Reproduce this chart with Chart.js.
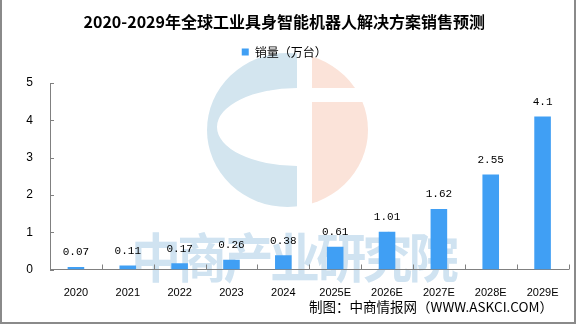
<!DOCTYPE html>
<html>
<head>
<meta charset="utf-8">
<script src="https://cdn.jsdelivr.net/npm/chart.js@4.4.1/dist/chart.umd.min.js"></script>
<style>
  html, body { margin: 0; padding: 0; background: #fff; }
  #wrap { width: 576px; height: 324px; position: relative; }
</style>
</head>
<body>
<div id="wrap"><canvas id="c" width="576" height="324"></canvas></div>
<script>
const titleText = '2020-2029年全球工业具身智能机器人解决方案销售预测';
const seriesName = '销量（万台）';
const categories = ['2020', '2021', '2022', '2023', '2024', '2025E', '2026E', '2027E', '2028E', '2029E'];
const sales = [0.07, 0.11, 0.17, 0.26, 0.38, 0.61, 1.01, 1.62, 2.55, 4.1];
const yTicks = [0, 1, 2, 3, 4, 5];
const watermarkText = '中商产业研究院';
const footerText = '制图：中商情报网（WWW.ASKCI.COM）';

const AXIS = '#808080';
const BAR = '#409ff4';
const CJK = '"Noto Sans CJK SC", "Noto Sans", sans-serif';

const legendSpace = {
  id: 'legendSpace',
  afterInit(chart) {
    const lg = chart.legend;
    if (lg && !lg._patched) {
      const fit = lg.fit;
      lg.fit = function () { fit.call(this); this.height += 15; };
      lg._patched = true;
    }
  }
};

const background = {
  id: 'background',
  beforeDraw(chart) {
    const ctx = chart.ctx;
    ctx.save();
    ctx.fillStyle = '#ffffff';
    ctx.fillRect(0, 0, chart.width, chart.height);

    // logo (background decoration)
    const cx = 287.5, cy = 130, rx = 80.5, ry = 77;
    ctx.save();
    ctx.beginPath();
    ctx.ellipse(cx, cy, rx, ry, 0, 0, Math.PI * 2);
    ctx.clip();
    ctx.save();
    ctx.beginPath();
    ctx.rect(0, 0, 297, 400);
    ctx.clip();
    ctx.beginPath();
    ctx.rect(0, 0, 297, 400);
    ctx.ellipse(297, 127, 80, 39, 0, 0, Math.PI * 2, true);
    ctx.fillStyle = '#d3e5ef';
    ctx.fill('evenodd');
    ctx.restore();
    ctx.fillStyle = '#fbe3d9';
    ctx.fillRect(312, 0, 100, 88);
    ctx.fillRect(312, 102, 100, 200);
    ctx.restore();

    // watermark
    ctx.fillStyle = '#d0e3f1';
    ctx.font = 'bold 50px ' + CJK;
    ctx.textAlign = 'left';
    ctx.textBaseline = 'middle';
    const chars = Array.from(watermarkText);
    chars.forEach((ch, i) => {
      ctx.save();
      ctx.translate(131 + i * 46.3, 258);
      ctx.scale(1, 1.06);
      ctx.fillText(ch, 0, 0);
      ctx.restore();
    });
    ctx.restore();
  },
  afterDraw(chart) {
    const ctx = chart.ctx;
    ctx.save();
    ctx.fillStyle = '#000';
    ctx.font = '13.5px ' + CJK;
    ctx.textAlign = 'right';
    ctx.textBaseline = 'middle';
    ctx.fillText(footerText, 553, 307);
    ctx.strokeStyle = '#8a8a8a';
    ctx.lineWidth = 2;
    ctx.beginPath();
    ctx.moveTo(1, 0); ctx.lineTo(1, 323);
    ctx.lineTo(575, 323); ctx.lineTo(575, 0);
    ctx.stroke();
    ctx.restore();
  }
};

const axisTicks = {
  id: 'axisTicks',
  afterDatasetsDraw(chart) {
    const ctx = chart.ctx;
    const x = chart.scales.x, y = chart.scales.y;
    const area = chart.chartArea;
    ctx.save();
    ctx.strokeStyle = AXIS;
    ctx.lineWidth = 1;
    ctx.beginPath();
    for (let i = 1; i <= categories.length; i++) {
      let px;
      if (i < categories.length) {
        px = (x.getPixelForValue(i - 1) + x.getPixelForValue(i)) / 2;
      } else {
        px = area.right;
      }
      px = Math.round(px) + 0.5;
      ctx.moveTo(px, area.bottom);
      ctx.lineTo(px, area.bottom - 5);
    }
    yTicks.forEach(v => {
      const py = Math.round(y.getPixelForValue(v)) + 0.5;
      ctx.moveTo(area.left, py);
      ctx.lineTo(area.left + 4, py);
    });
    ctx.stroke();

    const meta = chart.getDatasetMeta(0);
    ctx.fillStyle = '#000';
    ctx.font = '11px "Liberation Mono", "DejaVu Sans Mono", monospace';
    ctx.textAlign = 'center';
    ctx.textBaseline = 'middle';
    meta.data.forEach((bar, i) => {
      ctx.fillText(String(sales[i]), bar.x, bar.y - 14.5);
    });
    ctx.restore();
  }
};

new Chart(document.getElementById('c'), {
  type: 'bar',
  data: {
    labels: categories,
    datasets: [{
      label: seriesName,
      data: sales,
      backgroundColor: BAR,
      borderWidth: 0,
      barPercentage: 0.32,
      categoryPercentage: 1
    }]
  },
  options: {
    responsive: false,
    animation: false,
    devicePixelRatio: 1,
    layout: { padding: { top: 0, left: 0, right: 7.5, bottom: 0 } },
    plugins: {
      title: {
        display: true,
        text: titleText,
        color: '#000',
        font: { family: CJK, size: 16, weight: 'bold' },
        padding: { top: 12.5, bottom: 4.3 }
      },
      legend: {
        display: true,
        position: 'top',
        labels: {
          boxWidth: 7,
          boxHeight: 7,
          padding: 10,
          color: '#000',
          font: { family: CJK, size: 12 }
        }
      },
      tooltip: { enabled: false }
    },
    scales: {
      x: {
        grid: { display: false },
        border: { display: true, color: AXIS, width: 1 },
        ticks: {
          color: '#000',
          font: { family: '"Liberation Sans", Arial, sans-serif', size: 11 },
          padding: 9,
          maxRotation: 0,
          autoSkip: false
        },
        afterFit(s) { s.height = 54.5; }
      },
      y: {
        min: 0,
        max: 5,
        grid: { display: false },
        border: { display: true, color: AXIS, width: 1 },
        ticks: {
          stepSize: 1,
          color: '#000',
          font: { family: '"Liberation Sans", Arial, sans-serif', size: 12 },
          padding: 9
        },
        afterBuildTicks(s) { s.ticks = yTicks.map(v => ({ value: v })); },
        afterFit(s) { s.width = 50; }
      }
    }
  },
  plugins: [legendSpace, background, axisTicks]
});
</script>
</body>
</html>
